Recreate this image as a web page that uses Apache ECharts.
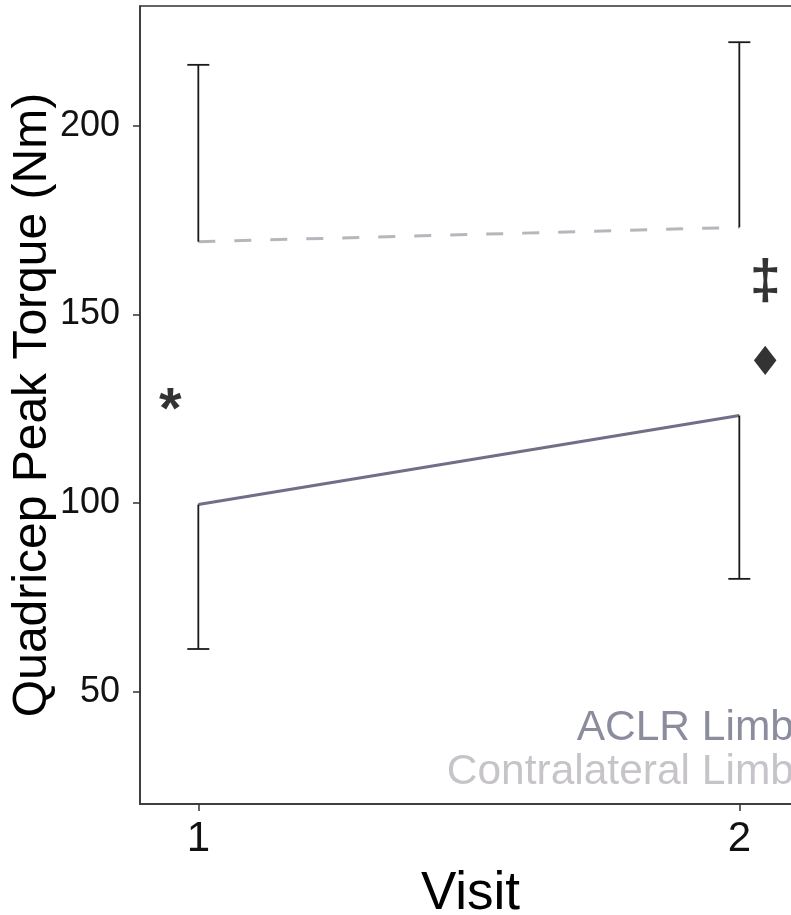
<!DOCTYPE html>
<html>
<head>
<meta charset="utf-8">
<script src="https://cdn.jsdelivr.net/npm/echarts@6/dist/echarts.min.js"></script>
<style>
html,body{margin:0;padding:0;background:#fff;}
#chart{width:791px;height:915px;}
</style>
</head>
<body>
<div id="chart"></div>
<script>
// ---- data ----
var visits = [1, 2];
var aclrMean = [99.6, 123.2];
var aclrLower = [61.3, 79.9];
var contraMean = [169.3, 173.1];
var contraUpper = [216.2, 222.2];
var xTicks = [1, 2];
var yTicks = [50, 100, 150, 200];
var groupLabels = ['ACLR Limb', 'Contralateral Limb'];
var groupLabelPos = [[2.101, 40.4], [2.101, 28.7]];
var marks = ['*', '\u2021', '\u2666'];
var markPos = [[0.948, 124.2], [2.048, 158.4], [2.048, 136.7]];

var aclrColor = '#6f6f87';
var contraColor = '#b9b5bc';
var font = '"Liberation Sans", Arial, sans-serif';

function pairs(xs, ys) { return xs.map(function (x, i) { return [x, ys[i]]; }); }
function triples(xs, a, b) { return xs.map(function (x, i) { return [x, a[i], b[i]]; }); }

function errRender(params, api) {
  var x = api.value(0), m = api.value(1), e = api.value(2);
  var p0 = api.coord([x, m]);
  var p1 = api.coord([x, e]);
  var st = { stroke: '#1a1a1a', lineWidth: 1.8 };
  return {
    type: 'group',
    children: [
      { type: 'line', shape: { x1: p0[0], y1: p0[1], x2: p1[0], y2: p1[1] }, style: st },
      { type: 'line', shape: { x1: p1[0] - 11, y1: p1[1], x2: p1[0] + 11, y2: p1[1] }, style: st }
    ]
  };
}

var chart = echarts.init(document.getElementById('chart'), null, { renderer: 'canvas' });
chart.setOption({
  animation: false,
  backgroundColor: '#fff',
  grid: {
    left: 140, top: 6, right: -10, bottom: 111,
    show: true, borderColor: '#333', borderWidth: 1.5,
    outerBoundsMode: 'none', containLabel: false
  },
  xAxis: {
    type: 'value', min: 0.8922, max: 2.114,
    axisLine: { show: true, lineStyle: { color: '#333', width: 1.5 } },
    axisTick: { show: true, customValues: xTicks, length: 7, lineStyle: { color: '#333', width: 1.5 } },
    axisLabel: { customValues: xTicks, fontSize: 42, color: '#111', margin: 14, fontFamily: font },
    splitLine: { show: false },
    name: 'Visit', nameLocation: 'middle', nameGap: 64, nameMoveOverlap: false,
    nameTextStyle: { fontSize: 53, color: '#000', fontFamily: font }
  },
  yAxis: {
    type: 'value', min: 20.2, max: 231.8,
    axisLine: { show: true, lineStyle: { color: '#333', width: 1.5 } },
    axisTick: { show: true, customValues: yTicks, length: 7, lineStyle: { color: '#333', width: 1.5 } },
    axisLabel: { customValues: yTicks, fontSize: 36, color: '#111', margin: 20, fontFamily: font },
    splitLine: { show: false },
    name: 'Quadricep Peak Torque (Nm)', nameLocation: 'middle', nameGap: 83, nameRotate: 90,
    nameMoveOverlap: false,
    nameTextStyle: { fontSize: 48, color: '#000', fontFamily: font }
  },
  series: [
    {
      name: 'Contralateral Limb', type: 'line', data: pairs(visits, contraMean),
      symbol: 'none', lineStyle: { color: contraColor, width: 3, type: [17, 19] }, z: 2
    },
    {
      name: 'ACLR Limb', type: 'line', data: pairs(visits, aclrMean),
      symbol: 'none', lineStyle: { color: aclrColor, width: 3 }, z: 2
    },
    { type: 'custom', renderItem: errRender, data: triples(visits, contraMean, contraUpper), z: 3 },
    { type: 'custom', renderItem: errRender, data: triples(visits, aclrMean, aclrLower), z: 3 },
    {
      type: 'scatter', symbolSize: 0, z: 4,
      data: groupLabelPos.map(function (p, i) {
        return {
          value: p,
          label: {
            show: true, position: 'left', distance: 0, formatter: groupLabels[i],
            fontSize: 42.5, fontFamily: font, color: i === 0 ? aclrColor : contraColor
          }
        };
      })
    },
    {
      type: 'scatter', symbolSize: 0, z: 4,
      data: markPos.map(function (p, i) {
        var sizes = [58, 56, 40];
        return {
          value: p,
          label: {
            show: true, position: 'inside', formatter: marks[i],
            fontSize: sizes[i], fontWeight: i === 2 ? 'normal' : 'bold',
            fontFamily: i === 2 ? '"DejaVu Sans", sans-serif' : font, color: '#000'
          }
        };
      })
    }
  ]
});
</script>
</body>
</html>
